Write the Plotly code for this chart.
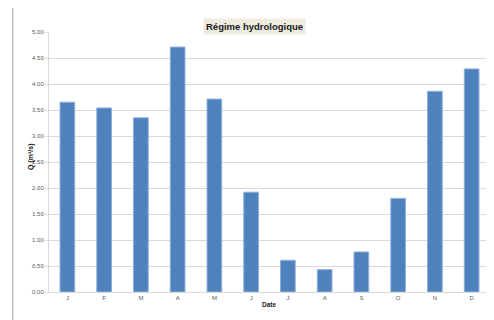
import plotly.graph_objects as go

months = ["Janvier", "Février", "Mars", "Avril", "Mai", "Juin",
          "Juillet", "Août", "Septembre", "Octobre", "Novembre", "Décembre"]
tick_labels = ["J", "F", "M", "A", "M", "J", "J", "A", "S", "O", "N", "D"]
q_values = [3.65, 3.54, 3.35, 4.71, 3.71, 1.92, 0.61, 0.43, 0.77, 1.80, 3.86, 4.29]
y_ticks = [0, 0.5, 1.0, 1.5, 2.0, 2.5, 3.0, 3.5, 4.0, 4.5, 5.0]

fig = go.Figure()
fig.add_trace(go.Bar(
    x=months, y=q_values,
    marker=dict(color="#4F81BD", line=dict(color="#8DB0DA", width=1)),
    width=0.4,
))

font_family = "Liberation Sans Narrow, Liberation Sans, Arial, sans-serif"

# page body has an 8px margin, so the figure is sized/offset to compensate
fig.update_layout(
    width=486, height=312,
    margin=dict(l=41, r=4, t=24, b=28),
    paper_bgcolor="white", plot_bgcolor="white",
    showlegend=False,
    font=dict(family=font_family, size=6, color="#595959"),
    xaxis=dict(
        type="category", tickmode="array", tickvals=months, ticktext=tick_labels,
        showgrid=False, showline=True, linecolor="#D9D9D9", linewidth=1,
        ticks="", tickfont=dict(size=6, color="#595959"),
    ),
    yaxis=dict(
        range=[0, 5], tickmode="array", tickvals=y_ticks, tickformat=".2f",
        showgrid=True, gridcolor="#D9D9D9", gridwidth=1,
        showline=True, linecolor="#D9D9D9", linewidth=1,
        ticks="outside", ticklen=3, tickcolor="#D9D9D9",
        tickfont=dict(size=6, color="#595959"), zeroline=False,
    ),
    annotations=[
        dict(text="<b>Régime hydrologique</b>", xref="paper", yref="paper",
             x=0.466, y=1.054, showarrow=False,
             font=dict(family=font_family, size=9.5, color="#1A1A1A"),
             bgcolor="#EEECE1", borderpad=2),
        dict(text="<b>Q (m³/s)</b>", xref="paper", yref="paper",
             x=-0.054, y=0.52, showarrow=False, textangle=-90,
             font=dict(family=font_family, size=7, color="#1A1A1A")),
        dict(text="<b>Date</b>", xref="paper", yref="paper",
             x=0.499, y=-0.07, showarrow=False,
             font=dict(family=font_family, size=6.5, color="#1A1A1A")),
    ],
    shapes=[
        dict(type="line", xref="paper", yref="paper",
             x0=-0.082, x1=1.03, y0=1.10, y1=1.10,
             line=dict(color="#A6A6A6", width=1)),
        dict(type="line", xref="paper", yref="paper",
             x0=-0.082, x1=-0.082, y0=1.10, y1=-0.12,
             line=dict(color="#A6A6A6", width=1)),
    ],
)

fig.write_html("out.html")
